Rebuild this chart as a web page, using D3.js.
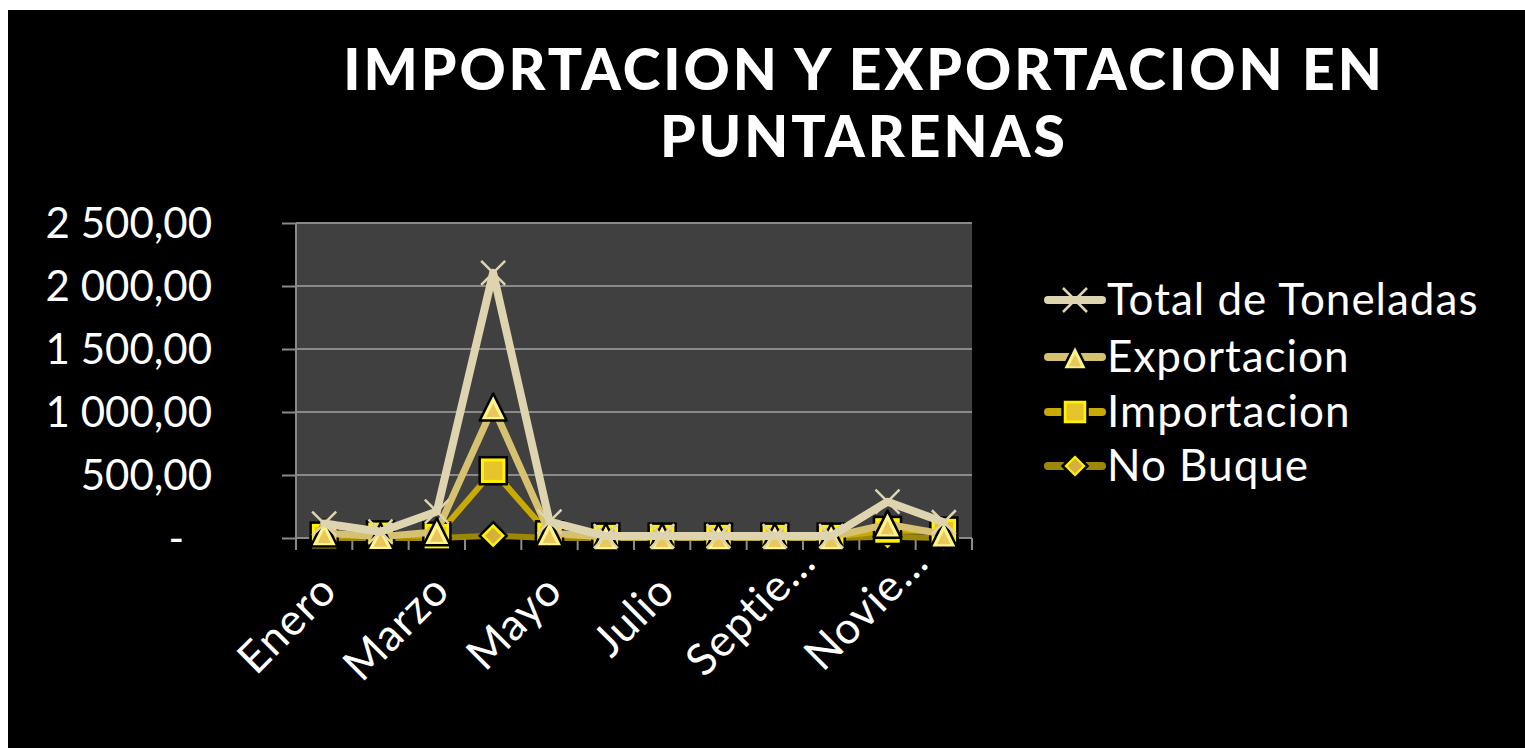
<!DOCTYPE html>
<html>
<head>
<meta charset="utf-8">
<script src="https://cdn.jsdelivr.net/npm/d3@7"></script>
<style>
  html, body { margin: 0; padding: 0; background: #ffffff; }
  svg { display: block; }
  text { font-family: Lato, "Open Sans", sans-serif; fill: #ffffff; }
</style>
</head>
<body>
<svg id="chart" width="1525" height="748"></svg>
<script>
// ---------- data ----------
const months = ["Enero","Febrero","Marzo","Abril","Mayo","Junio","Julio","Agosto","Septiembre","Octubre","Noviembre","Diciembre"];
const monthLabels = ["Enero","","Marzo","","Mayo","","Julio","","Septie…","","Novie…",""];
const totalToneladas = [115, 50, 210, 2105, 130, 15, 15, 15, 15, 15, 288, 125];
const exportacion    = [40, 10, 50, 1040, 40, 8, 8, 8, 8, 8, 110, 30];
const importacion    = [15, 25, 15, 534, 25, 7, 7, 7, 7, 7, 60, 55];
const noBuque        = [0, 0, 0, 18, 0, 0, 0, 0, 0, 0, 10, 0];
const yTicks = [0, 500, 1000, 1500, 2000, 2500];
const yTickLabels = ["-", "500,00", "1 000,00", "1 500,00", "2 000,00", "2 500,00"];
const titleLines = ["IMPORTACION Y EXPORTACION EN", "PUNTARENAS"];

const seriesNames = ["Total de Toneladas", "Exportacion", "Importacion", "No Buque"];
const seriesValues = [totalToneladas, exportacion, importacion, noBuque];

// ---------- styles ----------
const styles = {
  "Total de Toneladas": { line: "#ded5b0", width: 8, marker: "x" },
  "Exportacion":        { line: "#d6c170", width: 7, marker: "triangle" },
  "Importacion":        { line: "#c9aa05", width: 6, marker: "square" },
  "No Buque":           { line: "#9c8805", width: 6, marker: "diamond" }
};

const svg = d3.select("#chart");
svg.append("rect").attr("x", 8).attr("y", 10).attr("width", 1517).attr("height", 738).attr("fill", "#000");

// title
svg.append("g").selectAll("text").data(titleLines).join("text")
  .attr("x", 864).attr("y", (d, i) => 90 + i * 67)
  .attr("text-anchor", "middle")
  .attr("font-size", 57).attr("font-weight", 900).attr("letter-spacing", 3)
  .text(d => d);

const plot = { left: 296, right: 972, top: 223, bottom: 538 };
const x = d3.scaleBand().domain(months).range([plot.left, plot.right]).padding(0);
const cx = d => x(d) + x.bandwidth() / 2;
const y = d3.scaleLinear().domain([0, 2500]).range([plot.bottom, plot.top]);

svg.append("rect").attr("x", plot.left).attr("y", plot.top)
  .attr("width", plot.right - plot.left).attr("height", plot.bottom - plot.top)
  .attr("fill", "#404040");

// gridlines
svg.append("g").selectAll("line").data(yTicks.slice(1)).join("line")
  .attr("x1", plot.left).attr("x2", plot.right)
  .attr("y1", d => y(d)).attr("y2", d => y(d))
  .attr("stroke", "#8a8a8a").attr("stroke-width", 2);

// y axis
const yAxis = d3.axisLeft(y).tickValues(yTicks).tickSize(14).tickPadding(70)
  .tickFormat((d, i) => yTickLabels[i]);
const gy = svg.append("g").attr("transform", `translate(${plot.left},0)`).call(yAxis);
gy.select(".domain").attr("stroke", "#8a8a8a").attr("stroke-width", 2)
  .attr("d", `M0,${plot.top}V${plot.bottom + 12}`);
gy.selectAll(".tick line").attr("stroke", "#8a8a8a").attr("stroke-width", 2);
gy.selectAll(".tick text").attr("fill", "#fff").attr("font-size", 42)
  .attr("font-family", "Lato, sans-serif").attr("dy", "0.35em")
  .attr("dx", (d) => d === 0 ? -28 : 0);

// x axis
const gx = svg.append("g").attr("transform", `translate(0,${plot.bottom})`);
gx.append("line").attr("x1", plot.left).attr("x2", plot.right).attr("y1", 0).attr("y2", 0)
  .attr("stroke", "#8a8a8a").attr("stroke-width", 2);
gx.selectAll(".xt").data(months.concat(["__end"])).join("line").attr("class", "xt")
  .attr("x1", (d, i) => i < months.length ? x(d) : plot.right)
  .attr("x2", (d, i) => i < months.length ? x(d) : plot.right)
  .attr("y1", 0).attr("y2", 12)
  .attr("stroke", "#8a8a8a").attr("stroke-width", 2);
const xl = gx.selectAll(".xl").data(months).join("text").attr("class", "xl")
  .attr("transform", d => `translate(${cx(d) + 3},${43}) rotate(-45)`)
  .attr("text-anchor", "end").attr("dominant-baseline", "central")
  .attr("font-size", 44).attr("letter-spacing", 1);
xl.each(function(d, i) {
  const lbl = monthLabels[i];
  const t = d3.select(this);
  if (lbl.endsWith("…")) {
    t.append("tspan").text(lbl.slice(0, -1));
    const e = t.append("tspan").attr("letter-spacing", 6).text("…");
    // the truncation ellipsis hangs past the anchor point
    t.attr("dx", e.node().getComputedTextLength() + 6);
  } else {
    t.text(lbl);
  }
});

// markers
function drawMarker(g, type, size, color) {
  const s = size / 2;
  if (type === "x") {
    g.append("path").attr("d", `M${-s},${-s}L${s},${s}M${-s},${s}L${s},${-s}`)
      .attr("stroke", color).attr("stroke-width", 2.5).attr("fill", "none");
  } else if (type === "triangle") {
    g.append("path").attr("d", `M0,${-s}L${s},${s}L${-s},${s}Z`)
      .attr("fill", "#fff38c").attr("stroke", "#000").attr("stroke-width", 2.5).attr("stroke-linejoin", "round");
    const t = s * 0.5;
    g.append("path").attr("d", `M0,${-t + s*0.25}L${t},${t + s*0.25}L${-t},${t + s*0.25}Z`)
      .attr("fill", "#e8c85c");
  } else if (type === "square") {
    g.append("rect").attr("x", -s).attr("y", -s).attr("width", size).attr("height", size)
      .attr("fill", "#fff200").attr("stroke", "#000").attr("stroke-width", 2.5);
    const t = s * 0.68;
    g.append("rect").attr("x", -t).attr("y", -t).attr("width", 2 * t).attr("height", 2 * t)
      .attr("fill", "#e6c52c");
  } else if (type === "diamond") {
    g.append("path").attr("d", `M0,${-s}L${s},0L0,${s}L${-s},0Z`)
      .attr("fill", "#fff200").attr("stroke", "#000").attr("stroke-width", 2.5);
    const t = s * 0.6;
    g.append("path").attr("d", `M0,${-t}L${t},0L0,${t}L${-t},0Z`).attr("fill", "#d4b040");
  }
}

const line = d3.line().x((d, i) => cx(months[i])).y(d => y(d));
const seriesG = svg.append("g");
// draw in reverse so that "Total" ends on top
for (let k = seriesNames.length - 1; k >= 0; k--) {
  const name = seriesNames[k], vals = seriesValues[k], st = styles[name];
  seriesG.append("path").datum(vals).attr("d", line)
    .attr("fill", "none").attr("stroke", st.line).attr("stroke-width", st.width)
    .attr("stroke-linejoin", "round").attr("stroke-linecap", "round");
  vals.forEach((v, i) => {
    const g = seriesG.append("g").attr("transform", `translate(${cx(months[i])},${y(v)})`);
    drawMarker(g, st.marker, st.marker === "x" ? 24 : 27, st.line);
  });
}

// legend
const legendY = [300, 357, 412, 466];
const lg = svg.append("g");
seriesNames.forEach((name, i) => {
  const st = styles[name];
  const row = lg.append("g").attr("transform", `translate(0,${legendY[i]})`);
  row.append("line").attr("x1", 1048).attr("x2", 1102).attr("y1", 0).attr("y2", 0)
    .attr("stroke", st.line).attr("stroke-width", 8).attr("stroke-linecap", "round");
  const mg = row.append("g").attr("transform", "translate(1075,0)");
  drawMarker(mg, st.marker, st.marker === "x" ? 24 : 25, st.line);
  row.append("text").attr("x", 1107).attr("y", 0).attr("dy", "0.35em")
    .attr("font-size", 44).attr("letter-spacing", 1).text(name);
});
</script>
</body>
</html>
